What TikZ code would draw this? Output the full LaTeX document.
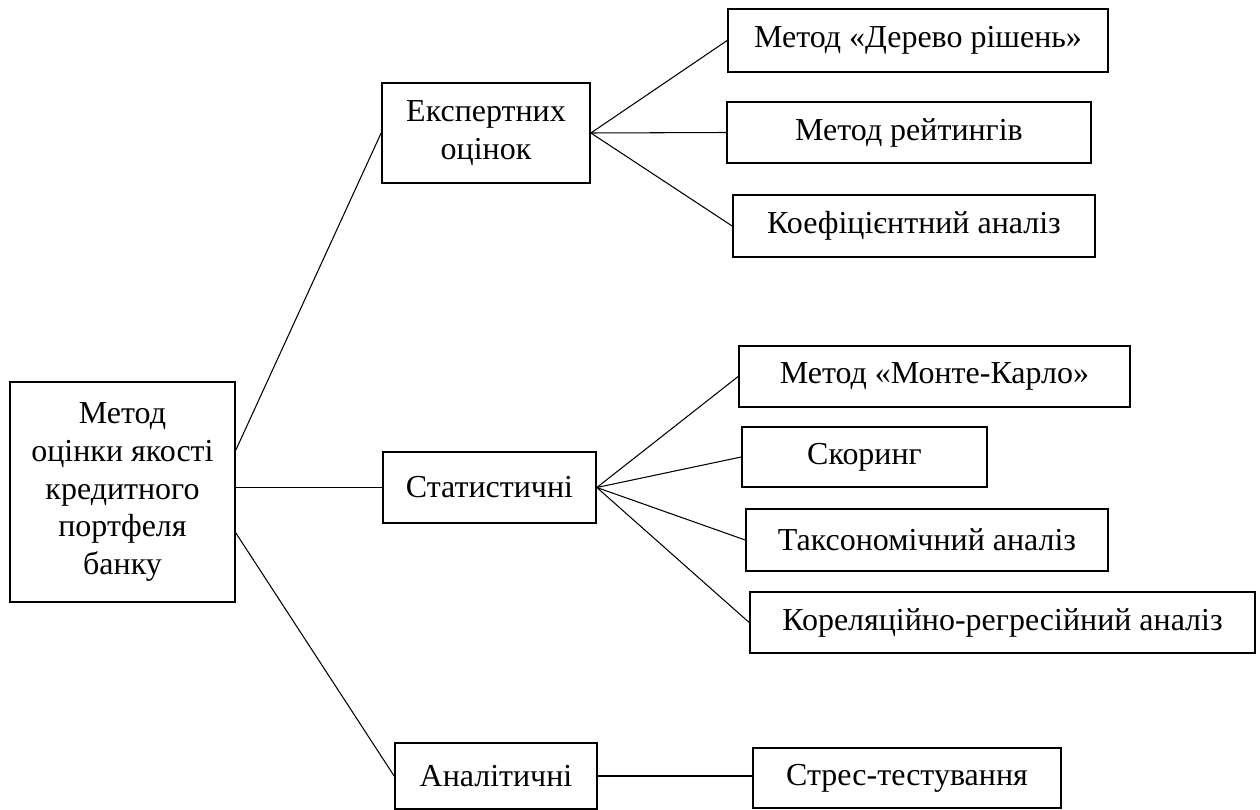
\documentclass[tikz,border=0pt]{standalone}
\usepackage{fontspec}
\setmainfont{Liberation Serif}

\begin{document}
\begin{tikzpicture}[x=0.02cm,y=-0.02cm,
  box/.style={draw,line width=1pt,inner sep=0pt,align=center,
    font=\fontsize{18.2}{21.6}\selectfont},
  link/.style={line width=0.6pt}]
  \useasboundingbox (0,0) rectangle (1260,810);

  % left part
  \node[box,minimum width=4.5cm,minimum height=4.4cm] (root) at (122.5,492)
    {Метод\\оцінки якості\\кредитного\\портфеля\\банку};
  \node[box,minimum width=4.16cm,minimum height=2cm] (eksp) at (486,133) {Експертних\\оцінок};
  \node[box,minimum width=4.26cm,minimum height=1.42cm] (stat) at (489.5,487.5) {Статистичні};
  \node[box,minimum width=4.04cm,minimum height=1.32cm] (anal) at (496,776) {Аналітичні};

  % right part
  \node[box,minimum width=7.6cm,minimum height=1.26cm] (derevo) at (918,40.5) {Метод «Дерево рішень»};
  \node[box,minimum width=7.28cm,minimum height=1.22cm] (reit) at (909,132.5) {Метод рейтингів};
  \node[box,minimum width=7.24cm,minimum height=1.24cm] (koef) at (914,226) {Коефіцієнтний аналіз};
  \node[box,minimum width=7.82cm,minimum height=1.22cm] (monte) at (934.5,376.5) {Метод «Монте-Карло»};
  \node[box,minimum width=4.9cm,minimum height=1.2cm] (skor) at (864.5,457) {Скоринг};
  \node[box,minimum width=7.24cm,minimum height=1.24cm] (takso) at (927,540) {Таксономічний аналіз};
  \node[box,minimum width=10.1cm,minimum height=1.22cm] (kor) at (1002.5,622.5) {Кореляційно-регресійний аналіз};
  \node[box,minimum width=6.16cm,minimum height=1.2cm] (stres) at (907,778) {Стрес-тестування};

  % connectors
  \draw[link] ([yshift=0.84cm]root.east) -- (eksp.west);
  \draw[link] (root.east |- stat.west) -- (stat.west);
  \draw[link] ([yshift=-0.82cm]root.east) -- (anal.west);
  \foreach \n in {derevo,reit,koef}
    \draw[link] (eksp.east) -- (\n.west);
  \foreach \n in {monte,skor,takso,kor}
    \draw[link] (stat.east) -- (\n.west);
  \draw[link] (anal.east) -- (anal.east -| stres.west);
\end{tikzpicture}
\end{document}
